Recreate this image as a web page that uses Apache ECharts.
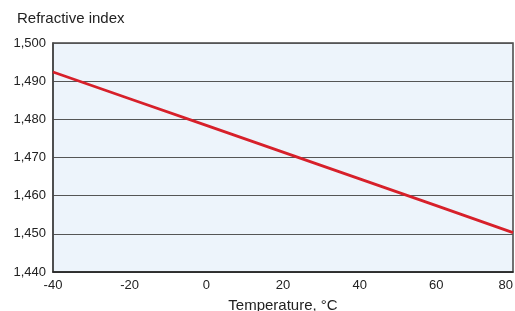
<!DOCTYPE html>
<html><head><meta charset="utf-8">
<script src="https://cdn.jsdelivr.net/npm/echarts@6/dist/echarts.min.js"></script>
<style>html,body{margin:0;padding:0;background:#fff}#c{width:515px;height:311px}</style>
</head><body><div id="c"></div>
<script>
const temperatures = [-40, -20, 0, 20, 40, 60, 80];
const refractiveIndex = [1.4924, 1.4854, 1.4784, 1.4714, 1.4644, 1.4574, 1.4503];
const yTicks = [1.44, 1.45, 1.46, 1.47, 1.48, 1.49, 1.5];
const xTicks = [-40, -20, 0, 20, 40, 60, 80];
const yTitle = 'Refractive index';
const xTitle = 'Temperature, °C';

const chart = echarts.init(document.getElementById('c'), null, {renderer:'canvas'});
const font = 'Liberation Sans, Arial, sans-serif';
chart.setOption({
  animation:false,
  graphic:[{type:'text', left:17, top:11, style:{text:yTitle, font:'15px Liberation Sans, Arial, sans-serif', fill:'#222'}}],
  grid:{left:53, right:2, top:43, bottom:39, show:true, backgroundColor:'#edf4fb', borderColor:'#444', borderWidth:1.5, outerBoundsMode:'none', containLabel:false},
  xAxis:{type:'value', min:-40, max:80, interval:20,
    name:xTitle, nameLocation:'middle', nameGap:26,
    nameTextStyle:{fontFamily:font, fontSize:15, color:'#222'},
    axisLine:{show:true, onZero:false, lineStyle:{color:'#222', width:1.5}},
    axisTick:{show:false}, splitLine:{show:false},
    axisLabel:{fontFamily:font, fontSize:13, color:'#222', margin:7, alignMaxLabel:'right'}},
  yAxis:{type:'value', min:1.44, max:1.5, interval:0.01,
    axisLine:{show:true, onZero:false, lineStyle:{color:'#444', width:1.5}},
    axisTick:{show:false},
    splitLine:{show:true, lineStyle:{color:'#555', width:1.2}},
    axisLabel:{fontFamily:font, fontSize:13, color:'#222', margin:7,
      formatter:v=>v.toFixed(3).replace('.', ',')}},
  series:[{type:'line', data:temperatures.map((t,i)=>[t, refractiveIndex[i]]),
    showSymbol:false, lineStyle:{color:'#d7202a', width:2.8}}]
});
</script></body></html>
